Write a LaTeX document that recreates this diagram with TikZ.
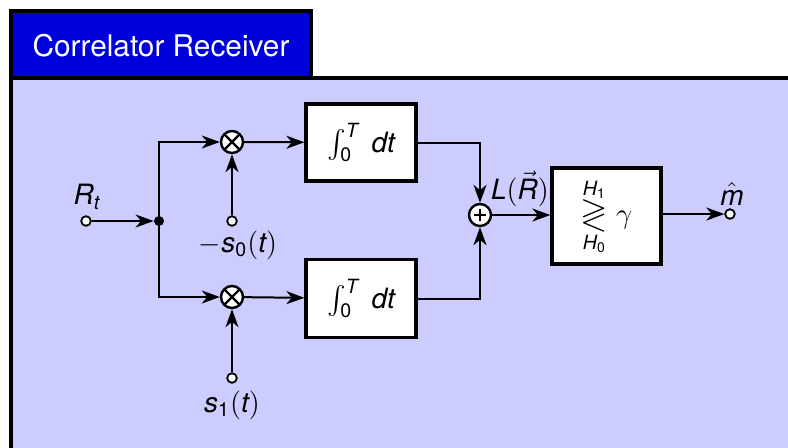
\documentclass[tikz,border=0pt]{standalone}
\usepackage{amsmath}
\usepackage{amssymb}
\usepackage{graphicx}
\usepackage{fontspec}
\setmainfont{TeX Gyre Heros}
\usetikzlibrary{arrows.meta}
\definecolor{lav}{HTML}{CCCCFF}
\definecolor{tabblue}{HTML}{0000DD}
\newcommand{\mi}[1]{\mathit{#1}}
\newcommand{\mr}[1]{\mathrm{#1}}
\begin{document}
\begin{tikzpicture}[x=0.5pt,y=-0.5pt,
  conn/.style={line width=1pt,-{Stealth[length=9pt,width=6.5pt,inset=2.7pt]}},
  term/.style={circle,draw,fill=white,line width=0.9pt,inner sep=0pt,minimum size=4.8pt},
  junc/.style={circle,fill=black,inner sep=0pt,minimum size=5pt},
  mulnode/.style={circle,draw,fill=white,line width=1.2pt,inner sep=0pt,minimum size=11pt,
    path picture={\draw[line width=1.1pt] (path picture bounding box.south west)--(path picture bounding box.north east)
      (path picture bounding box.north west)--(path picture bounding box.south east);}},
  addnode/.style={circle,draw,fill=white,line width=1.2pt,inner sep=0pt,minimum size=11pt,
    path picture={\draw[line width=1.4pt] ([xshift=-3pt]path picture bounding box.center)--([xshift=3pt]path picture bounding box.center)
      ([yshift=-3pt]path picture bounding box.center)--([yshift=3pt]path picture bounding box.center);}},
  blk/.style={draw,fill=white,line width=1.6pt,inner sep=0pt},
  lbl/.style={font=\fontsize{14}{16}\selectfont,inner sep=1pt}
]
\useasboundingbox (0,0) rectangle (788,447);
\clip (0,0) rectangle (788,447);
% frame
\draw[line width=1.6pt,fill=lav] (11,78) rectangle (820,480);
\draw[line width=2pt,fill=tabblue] (11,11) rectangle (311,78);
\node[text=white,font=\fontsize{14.9}{17}\selectfont] (title) at (161,46) {Correlator Receiver};
% nodes
\node[term] (in) at (86,221) {};
\node[lbl] (inl) at (87,197) {$\mi{R}_{\mi{t}}$};
\node[junc] (dot) at (159,221) {};
\node[mulnode] (m1) at (232,142) {};
\node[mulnode] (m2) at (232,297) {};
\node[term] (s0) at (232,221) {};
\node[lbl] (s0l) at (238,245) {$-\mi{s}_{\mr{0}}(\mi{t})$};
\node[term] (s1) at (232,378) {};
\node[lbl] (s1l) at (232,405) {$\mi{s}_{\mr{1}}(\mi{t})$};
\node[blk,minimum width=55pt,minimum height=38.5pt,lbl] (i1) at (361,142.5) {$\int_{\mr{0}}^{\mi{T}}\;\mi{dt}$};
\node[blk,minimum width=55pt,minimum height=39pt,lbl] (i2) at (361,298.5) {$\int_{\mr{0}}^{\mi{T}}\;\mi{dt}$};
\node[addnode] (add) at (480,215) {};
\node[lbl] (ll) at (520,189) {$\mi{L}(\vec{\mi{R}})$};
\node[blk,minimum width=54.5pt,minimum height=48pt,lbl] (dec) at (606.5,216)
  {$\begin{array}{@{}c@{}}\scriptstyle \mi{H}_{\mr{1}}\\[-3pt]\scalebox{1.25}{$\gtrless$}\\[-3pt]\scriptstyle \mi{H}_{\mr{0}}\end{array}\;\gamma$};
\node[term] (out) at (730,214) {};
\node[lbl] (outl) at (732,194) {$\hat{\mi{m}}$};
% connectors
\draw[conn] (in) -- (dot);
\draw[conn] (dot.center) |- (m1);
\draw[conn] (dot.center) |- (m2);
\draw[conn] (s0) -- (m1);
\draw[conn] (s1) -- (m2);
\draw[conn] (m1) -- (i1);
\draw[conn] (m2) -- (i2);
\draw[conn] (i1) -| (add);
\draw[conn] (i2) -| (add);
\draw[conn] (add) -- (add -| dec.west);
\draw[conn] (dec.east |- out) -- (out);
\end{tikzpicture}
\end{document}
